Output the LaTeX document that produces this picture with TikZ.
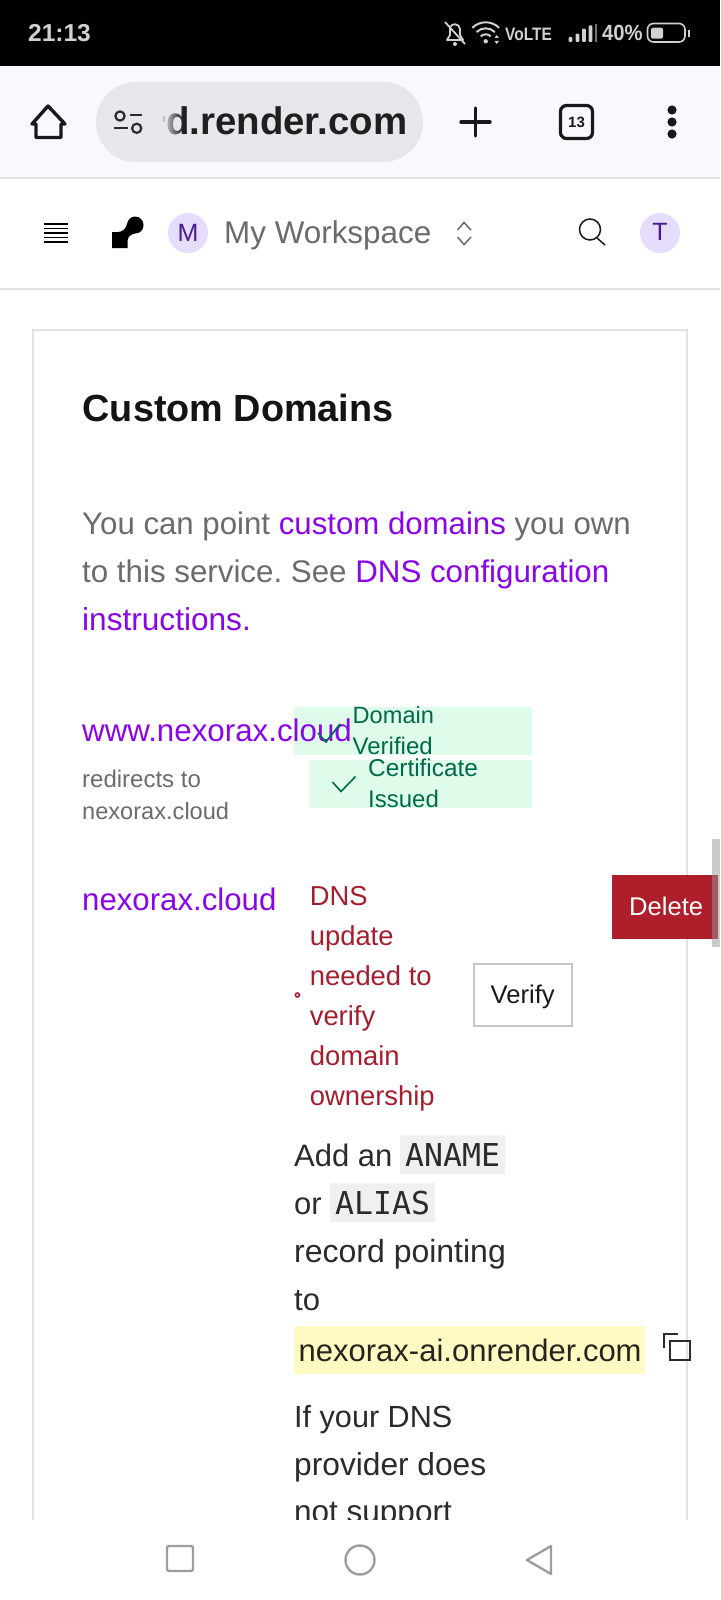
\documentclass[tikz,border=0pt]{standalone}
\usepackage{fontspec}
\setmainfont{Liberation Sans}
\setmonofont{DejaVu Sans Mono}
\usetikzlibrary{fadings}
\definecolor{barlilac}{HTML}{F9F8FE}
\definecolor{pillgrey}{HTML}{E8E6EB}
\definecolor{edgegrey}{HTML}{E2E2E6}
\definecolor{mauve}{HTML}{E6DCFB}
\definecolor{indigo}{HTML}{4A1A90}
\definecolor{dimgrey}{HTML}{6B6B6B}
\definecolor{linkpurple}{HTML}{8A05E8}
\definecolor{mint}{HTML}{DFFCEB}
\definecolor{pine}{HTML}{006A4B}
\definecolor{wine}{HTML}{A61E2D}
\definecolor{crimson}{HTML}{AF1E2B}
\definecolor{codegrey}{HTML}{F0F0F0}
\definecolor{inkgrey}{HTML}{2B2B2B}
\definecolor{lemon}{HTML}{FFFAC2}
\newcommand{\fs}[1]{\fontsize{#1}{#1}\selectfont}
\frenchspacing
\tikzset{
  txt/.style={anchor=base west, inner sep=0pt},
  mid/.style={anchor=center, inner sep=0pt},
  icon/.style={line width=2.4pt, line join=round, line cap=round},
}

\begin{document}
\begin{tikzpicture}[x=1pt, y=-1pt]
        \useasboundingbox (0,0) rectangle (720,1600);
        \fill[white] (0,0) rectangle (720,1600);

        % Status bar
        \fill[black] (0,0) rectangle (720,66);
        \node (clock) [txt, text=white!82!black, font=\fs{24.5}\bfseries] at (28,41.7) {21:13};
        \draw[white!82!black, line width=1.8pt, line join=round] (450,27) .. controls (452,23) and (459,23) .. (460,29) -- (460,35) -- (463,40) -- (447,40) -- (450,35) -- cycle;
        \draw[white!82!black, line width=1.8pt] (445,22) -- (465,44);
        \fill[white!82!black] (455,44) circle (2);
        \foreach \rad in {7,13,19}
          \draw[white!82!black, line width=2pt] (485.7,41.3) ++(-135:\rad) arc (-135:-45:\rad);
        \fill[white!82!black] (485.7,41.3) circle (2.2);
        \fill[white!82!black] (494.5,38) -- (499,38) -- (496.7,35) -- cycle;
        \fill[white!82!black] (494.5,41) -- (499,41) -- (496.7,44) -- cycle;
        \node (volte) [txt, text=white!82!black, font=\fs{18}\bfseries, xscale=.86, transform shape] at (505,40.5) {VoLTE};
        \foreach \bx/\by in {568.5/37,575.5/33.7,582/28.7,588.5/25.3}
          \fill[white!82!black, rounded corners=1pt] (\bx,\by) rectangle (\bx+3.8,42);
        \fill[white!45!black] (594.5,23.7) rectangle (596.5,42);
        \node (charge) [txt, text=white!82!black, font=\fs{22}\bfseries, xscale=.92, transform shape] at (602,40.7) {40\%};
        \draw[white!82!black, line width=1.6pt, rounded corners=6pt] (647.5,23.5) rectangle (685,42);
        \fill[white!82!black, rounded corners=2pt] (651,27.7) rectangle (663,38.7);
        \fill[white!82!black] (687.5,30) rectangle (690,37);

        % Browser toolbar
        \fill[barlilac] (0,66) rectangle (720,177);
        \fill[edgegrey] (0,177) rectangle (720,179);
        \fill[pillgrey, rounded corners=40pt] (96,82) rectangle (423,162);
        \draw[black!90, line width=3.4pt, line join=round] (48,106) -- (32,124) -- (36,124) -- (36,137.5) -- (61,137.5) -- (61,124) -- (65,124) -- cycle;
        \draw[inkgrey, line width=2.2pt] (120,116) circle (4.6);
        \draw[inkgrey, line width=2.2pt] (130,115) -- (141.5,115);
        \draw[inkgrey, line width=2.2pt] (136.7,128.3) circle (4.6);
        \draw[inkgrey, line width=2.2pt] (114,128.3) -- (128,128.3);
        \node (address) [txt, text=black!88, font=\fs{38.4}\bfseries] at (166,135) {d.render.com};
        \fill[pillgrey, path fading=east] (161,100) rectangle (183,140);
        \fill[black!25] (163,116) rectangle (165,122);
        \draw[black!90, line width=3.4pt, line cap=round] (475.5,108) -- (475.5,136) (461,122) -- (490,122);
        \draw[black!90, line width=3.2pt, rounded corners=6pt] (560.5,105.5) rectangle (592.5,138.5);
        \node (tabs) [mid, text=black!90, font=\fs{15}\bfseries] at (576.5,122.5) {13};
        \foreach \dy in {110,122,134}
          \fill[black!90] (672,\dy) circle (4.6);

        % Site header
        \foreach \ly in {224,228.5,233,237.5,242}
          \draw[black, line width=1.3pt] (44,\ly) -- (68,\ly);
        \fill[black] (112,232) -- (118,232) .. controls (122,232) and (126,229) .. (127,224) .. controls (128,219.5) and (131,216.5) .. (135,216.5) .. controls (140,216.5) and (143.5,220.5) .. (143.5,225) .. controls (143.5,230) and (140,233.5) .. (135,233.5) .. controls (131,234) and (127.5,237) .. (127.5,241) -- (127.5,248) -- (112,248) -- cycle;
        \fill[mauve] (188,233) circle (20);
        \node (workspacebadge) [mid, text=indigo, font=\fs{25}] at (188,233) {M};
        \node (workspace) [txt, text=dimgrey, font=\fs{31.4}] at (224,243.5) {My Workspace};
        \draw[dimgrey, line width=1.5pt] (457.5,230) -- (464,222.5) -- (471,230);
        \draw[dimgrey, line width=1.5pt] (457.5,237) -- (464,244.5) -- (471,237);
        \draw[black!90, line width=1.5pt] (590,229.5) circle (10.5);
        \draw[black!90, line width=1.5pt] (597,238) -- (605,245);
        \fill[mauve] (660,233) circle (20);
        \node (userbadge) [mid, text=indigo, font=\fs{25}] at (660,232) {T};
        \fill[edgegrey] (0,288) rectangle (720,290);

        % Card
        \draw[edgegrey, line width=2pt] (33,1520) -- (33,330) -- (687,330) -- (687,1520);
        \node (title) [txt, text=black!92, font=\fs{37.8}\bfseries] at (82.5,421) {Custom Domains};
        \node (introa) [txt, text=dimgrey, font=\fs{31.2}] at (82,534.5) {You can point \textcolor{linkpurple}{custom domains} you own};
        \node (introb) [txt, text=dimgrey, font=\fs{31.3}] at (82,582.5) {to this service. See \textcolor{linkpurple}{DNS configuration}};
        \node (introc) [txt, text=linkpurple, font=\fs{31.6}] at (82,630.5) {instructions.};

        % First domain
        \fill[mint] (294,706.7) rectangle (532,755);
        \fill[mint] (310,760) rectangle (532,807.7);
        \node (wwwlink) [txt, text=linkpurple, font=\fs{31.3}] at (82,741.7) {www.nexorax.cloud};
        \draw[pine, line width=1.6pt] (318,733) -- (326,742) -- (340,724);
        \draw[pine, line width=1.6pt] (332.5,782) -- (341,791.5) -- (355.5,776.5);
        \node (verifieda) [txt, text=pine, font=\fs{23.6}] at (352.5,723) {Domain};
        \node (verifiedb) [txt, text=pine, font=\fs{24}] at (352.5,754.5) {Verified};
        \node (issueda) [txt, text=pine, font=\fs{24.4}] at (368,776.5) {Certificate};
        \node (issuedb) [txt, text=pine, font=\fs{24}] at (368,807) {Issued};
        \node (redirecta) [txt, text=dimgrey, font=\fs{24}] at (82,787.7) {redirects to};
        \node (redirectb) [txt, text=dimgrey, font=\fs{23.6}] at (82,819) {nexorax.cloud};

        % Second domain
        \node (rootlink) [txt, text=linkpurple, font=\fs{31.2}] at (82,910) {nexorax.cloud};
        \draw[wine, line width=1.6pt] (297.4,995) circle (2);
        \node (dnsa) [txt, text=wine, font=\fs{27.4}] at (309.6,905) {DNS};
        \node (dnsb) [txt, text=wine, font=\fs{27.4}] at (309.6,945) {update};
        \node (dnsc) [txt, text=wine, font=\fs{27.4}] at (309.6,985) {needed to};
        \node (dnsd) [txt, text=wine, font=\fs{27.4}] at (309.6,1025) {verify};
        \node (dnse) [txt, text=wine, font=\fs{27.4}] at (309.6,1065) {domain};
        \node (dnsf) [txt, text=wine, font=\fs{27.4}] at (309.6,1105) {ownership};
        \draw[black!22, line width=2pt] (473.5,964.3) rectangle (571.6,1025.7);
        \node (verifybtn) [txt, text=black!90, font=\fs{25.6}] at (490.5,1003.5) {Verify};
        \fill[crimson] (612,875) rectangle (718,939);
        \node (deletebtn) [txt, text=white, font=\fs{25.6}] at (629,915) {Delete};
        \fill[black!40, opacity=.5] (712,839) rectangle (720,947);

        % Record instructions
        \fill[codegrey] (400,1135) rectangle (505,1174);
        \fill[codegrey] (330,1182.7) rectangle (435,1221.7);
        \node (adda) [txt, text=inkgrey, font=\fs{31}] at (294,1166.3) {Add an};
        \node (aname) [txt, text=inkgrey, font=\fs{31.5}\ttfamily] at (405,1166.3) {ANAME};
        \node (addb) [txt, text=inkgrey, font=\fs{31}] at (294,1214) {or};
        \node (alias) [txt, text=inkgrey, font=\fs{31.5}\ttfamily] at (335,1214) {ALIAS};
        \node (addc) [txt, text=inkgrey, font=\fs{32}] at (294,1262.7) {record pointing};
        \node (addd) [txt, text=inkgrey, font=\fs{31}] at (294,1310) {to};
        \fill[lemon] (294,1326) rectangle (645,1374);
        \node (target) [txt, text=black!85!lemon, font=\fs{31}] at (298.5,1361.5) {nexorax-ai.onrender.com};
        \draw[inkgrey, line width=2.2pt] (670,1341) rectangle (690,1360);
        \draw[inkgrey, line width=2pt] (663.5,1348) -- (663.5,1334) -- (678,1334);
        \node (notea) [txt, text=inkgrey, font=\fs{30.6}] at (294,1427) {If your DNS};
        \node (noteb) [txt, text=inkgrey, font=\fs{31.7}] at (294,1475) {provider does};
        \node (notec) [txt, text=inkgrey, font=\fs{31.5}] at (294,1522.5) {not support};

        % Navigation bar
        \fill[white] (0,1520) rectangle (720,1600);
        \draw[black!38, icon, rounded corners=2pt] (167,1546) rectangle (193,1571);
        \draw[black!38, icon] (360,1560) circle (14.5);
        \draw[black!38, icon] (527,1560) -- (551,1546) -- (551,1574) -- cycle;
\end{tikzpicture}
\end{document}
